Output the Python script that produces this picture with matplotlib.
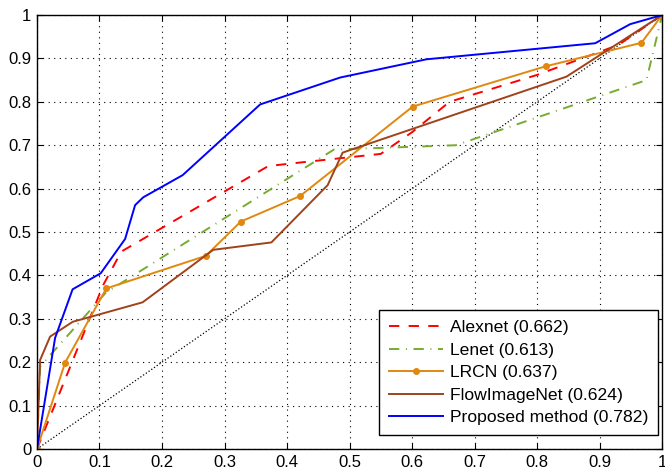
import numpy as np
import matplotlib
matplotlib.use('Agg')
import matplotlib.pyplot as plt

plt.rcParams['font.family'] = ['Liberation Sans', 'DejaVu Sans']

# ROC-style curves
alexnet_x = [0, 0.106, 0.135, 0.37, 0.42, 0.55, 0.6, 0.66, 0.8, 0.93, 1]
alexnet_y = [0, 0.378, 0.455, 0.652, 0.66, 0.68, 0.73, 0.80, 0.862, 0.931, 1]

lenet_x = [0, 0.005, 0.11, 0.475, 0.67, 0.975, 1]
lenet_y = [0, 0.19, 0.36, 0.69, 0.70, 0.85, 1]

lrcn_x = [0, 0.045, 0.111, 0.27, 0.326, 0.421, 0.601, 0.814, 0.967, 1]
lrcn_y = [0, 0.199, 0.370, 0.445, 0.524, 0.583, 0.789, 0.882, 0.936, 1]

flow_x = [0, 0.005, 0.021, 0.057, 0.169, 0.282, 0.375, 0.465, 0.489, 0.847, 1]
flow_y = [0, 0.205, 0.259, 0.293, 0.338, 0.459, 0.476, 0.608, 0.683, 0.858, 1]

prop_x = [0, 0.029, 0.057, 0.102, 0.141, 0.157, 0.170, 0.233, 0.357, 0.485, 0.623, 0.893, 0.949, 1]
prop_y = [0, 0.256, 0.368, 0.405, 0.484, 0.562, 0.580, 0.631, 0.794, 0.856, 0.898, 0.935, 0.979, 1]

labels = ['Alexnet (0.662)', 'Lenet (0.613)', 'LRCN (0.637)',
          'FlowImageNet (0.624)', 'Proposed method (0.782)']
ticks = np.round(np.arange(0, 1.01, 0.1), 1)
tick_labels = ['0'] + ['%.1f' % t for t in ticks[1:-1]] + ['1']

fig = plt.figure(figsize=(6.65, 4.70), dpi=100)
ax = fig.add_axes([0.0556, 0.0447, 0.94, 0.9233])

ax.plot([0, 1], [0, 1], ':', color='k', lw=0.9)
ax.plot(alexnet_x, alexnet_y, '--', color='#ff0000', lw=1.4, dashes=(5.3, 4.8), label=labels[0])
ax.plot(lenet_x, lenet_y, '-.', color='#77ac30', lw=1.4, dashes=(5.3, 3.4, 0.5, 3.4), label=labels[1])
ax.plot(lrcn_x, lrcn_y, '-', color='#e0880f', lw=1.4, marker='o', markersize=4, label=labels[2])
ax.plot(flow_x, flow_y, '-', color='#a0421a', lw=1.4, label=labels[3])
ax.plot(prop_x, prop_y, '-', color='#0000ff', lw=1.4, label=labels[4])

ax.set_xlim(0, 1)
ax.set_ylim(0, 1)
ax.set_xticks(ticks)
ax.set_yticks(ticks)
ax.set_xticklabels(tick_labels)
ax.set_yticklabels(tick_labels)
ax.tick_params(direction='in', top=True, right=True, labelsize=12, length=4, pad=4)
ax.grid(True, linestyle=(0, (1, 4)), color='k', lw=0.8)
for s in ax.spines.values():
    s.set_linewidth(1.0)

leg = ax.legend(loc='lower right', bbox_to_anchor=(0.9936, 0.032), fontsize=12.6,
                fancybox=False, framealpha=1, edgecolor='k', handlelength=3.1,
                borderaxespad=0, labelspacing=0.42, borderpad=0.55, handletextpad=0.4)
leg.get_frame().set_linewidth(1.0)

fig.savefig('out.png', dpi=100)
